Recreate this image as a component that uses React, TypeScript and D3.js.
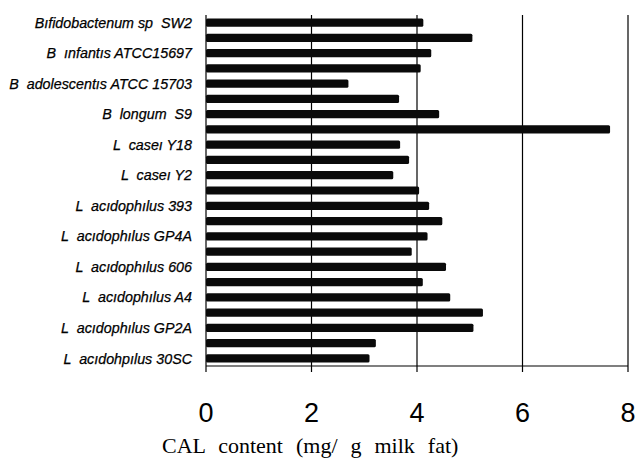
import React, { useEffect, useRef } from 'react';
import * as d3 from 'd3';

// strain labels (one label for every second bar)
const strainLabels = [
  'Bıfidobactenum sp  SW2',
  'B  ınfantıs ATCC15697',
  'B  adolescentıs ATCC 15703',
  'B  longum  S9',
  'L  caseı Y18',
  'L  caseı Y2',
  'L  acıdophılus 393',
  'L  acıdophılus GP4A',
  'L  acıdophılus 606',
  'L  acıdophılus A4',
  'L  acıdophılus GP2A',
  'L  acıdohpılus 30SC',
];

// CAL content per bar, top to bottom (mg/g milk fat)
const calValues = [
  4.12, 5.05, 4.27, 4.07, 2.7, 3.66, 4.42, 7.66, 3.68, 3.85, 3.55, 4.04,
  4.23, 4.48, 4.2, 3.9, 4.55, 4.11, 4.63, 5.25, 5.07, 3.22, 3.1,
];

const xTicks = [0, 2, 4, 6, 8];
const xTitle = 'CAL content (mg/ g milk fat)';

export default function App() {
  const svgRef = useRef<SVGSVGElement | null>(null);

  useEffect(() => {
    document.body.style.margin = '0';
    const width = 636;
    const height = 461;
    const margin = { top: 15, right: 8, bottom: 95, left: 206 };

    const svg = d3.select(svgRef.current);
    svg.selectAll('*').remove();
    svg.attr('width', width).attr('height', height);

    const x = d3
      .scaleLinear()
      .domain([0, 8])
      .range([margin.left, width - margin.right]);

    const y = d3
      .scaleBand<number>()
      .domain(d3.range(calValues.length))
      .range([margin.top, height - margin.bottom])
      .paddingInner(0.46)
      .paddingOuter(0.23);

    const axisY = height - margin.bottom;

    // vertical grid lines (plus small ticks below the axis)
    svg
      .append('g')
      .selectAll('line')
      .data(xTicks)
      .join('line')
      .attr('x1', (d) => x(d))
      .attr('x2', (d) => x(d))
      .attr('y1', margin.top)
      .attr('y2', axisY + 6)
      .attr('stroke', '#000')
      .attr('stroke-width', 1.2);

    // bottom axis line
    svg
      .append('line')
      .attr('x1', x(0))
      .attr('x2', x(8))
      .attr('y1', axisY)
      .attr('y2', axisY)
      .attr('stroke', '#000')
      .attr('stroke-width', 1.2);

    // bars
    svg
      .append('g')
      .selectAll('rect')
      .data(calValues)
      .join('rect')
      .attr('x', x(0))
      .attr('y', (_, i) => y(i)!)
      .attr('width', (d) => x(d) - x(0))
      .attr('height', y.bandwidth())
      .attr('rx', 1.5)
      .attr('fill', '#0a0a0a');

    // strain labels on every second bar
    svg
      .append('g')
      .selectAll('text')
      .data(strainLabels)
      .join('text')
      .attr('x', 192)
      .attr('y', (_, i) => y(i * 2)! + y.bandwidth() / 2)
      .attr('dy', '0.36em')
      .attr('text-anchor', 'end')
      .attr('font-family', '"Liberation Sans", Arial, sans-serif')
      .attr('font-style', 'italic')
      .attr('font-size', 14.3)
      .attr('fill', '#000')
      .attr('stroke', '#000')
      .attr('stroke-width', 0.25)
      .style('white-space', 'pre')
      .text((d) => d);

    // x tick labels
    svg
      .append('g')
      .selectAll('text')
      .data(xTicks)
      .join('text')
      .attr('x', (d) => x(d))
      .attr('y', 422)
      .attr('text-anchor', 'middle')
      .attr('font-family', '"Liberation Sans", Arial, sans-serif')
      .attr('font-size', 27)
      .attr('fill', '#000')
      .text((d) => d);

    // axis title
    svg
      .append('text')
      .attr('x', 162)
      .attr('y', 453)
      .attr('font-family', '"Liberation Serif", "Times New Roman", serif')
      .attr('font-size', 22)
      .attr('word-spacing', 7.5)
      .attr('fill', '#000')
      .text(xTitle);
  }, []);

  return <svg ref={svgRef} style={{ display: 'block', background: '#fff' }} />;
}
